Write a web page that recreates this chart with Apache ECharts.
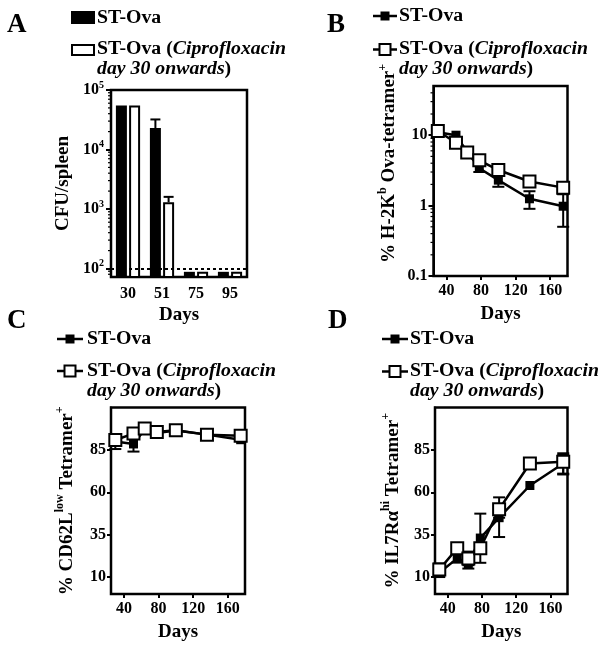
<!DOCTYPE html>
<html><head><meta charset="utf-8">
<script src="https://cdn.jsdelivr.net/npm/echarts@6/dist/echarts.min.js"></script>
<style>html,body{margin:0;padding:0;background:#fff}#c{width:604px;height:651px}</style>
</head><body><div id="c"></div>
<script>
// ---------- data ----------
const cfuDays = ['30', '51', '75', '95'];
const cfuST = [55000, 23000, 88, 88];
const cfuCip = [55000, 1300, 88, 88];
const cfuErrST = [[1, 32000]];          // [category index, upper]
const cfuErrCip = [[1, 1600]];
const detectionLimit = 100;
const cfuMinorTicks = [80, 90, 200, 300, 400, 500, 600, 700, 800, 900, 2000, 3000, 4000, 5000, 6000, 7000, 8000, 9000, 20000, 30000, 40000, 50000, 60000, 70000, 80000, 90000];

const days = [30, 51, 64, 78, 100, 136, 175];
const tetST = [11, 10, 5.8, 3.4, 2.3, 1.25, 0.98];
const tetCip = [11.5, 7.8, 5.7, 4.4, 3.2, 2.2, 1.8];
const tetErrST = [[78, 3.0, 3.8], [100, 1.85, 2.8], [136, 0.9, 1.6], [175, 0.5, 1.45]];
const tetErrCip = [[30, 10.2, 12.8]];
const tetMinorTicks = [0.2, 0.3, 0.4, 0.5, 0.6, 0.7, 0.8, 0.9, 2, 3, 4, 5, 6, 7, 8, 9, 20, 30, 40];

const cd62ST = [90, 88.5, 97, 95, 96.5, 94, 91];
const cd62Cip = [90.8, 94.6, 97.6, 95.6, 96.6, 94, 93.4];
const cd62ErrST = [[30, 85.5, 94], [51, 84, 92]];
const cd62ErrCip = [];

const il7ST = [12.5, 21, 18, 33, 45, 64, 77];
const il7Cip = [14.4, 27, 21, 27, 50, 77, 78];
const il7ErrST = [[30, 10, 16], [51, 18.5, 23.5], [64, 15, 24], [78, 18.4, 47.4], [100, 33.6, 50], [175, 71, 82]];
const il7ErrCip = [[30, 12, 18], [51, 24, 30], [64, 17, 25], [100, 45, 57], [175, 70.5, 83]];

const dayTicks = [40, 80, 120, 160];
const pctTicks = [10, 35, 60, 85];

// ---------- styles ----------
const FONT = '"Liberation Serif", "Times New Roman", serif';
const BLACK = '#000';
const tickLabel = { color: BLACK, fontFamily: FONT, fontWeight: 'bold', fontSize: 16 };
const nameStyle = { color: BLACK, fontFamily: FONT, fontWeight: 'bold', fontSize: 19 };
const titleRich = {
  t: { fontFamily: FONT, fontWeight: 'bold', fontSize: 19, lineHeight: 26, color: BLACK },
  s: { fontFamily: FONT, fontWeight: 'bold', fontSize: 12, lineHeight: 12, verticalAlign: 'top', color: BLACK }
};
const axisLine = { show: true, onZero: false, lineStyle: { color: BLACK, width: 2 } };

const BAR_W = 11, BAR_GAP = 0.2;
const barOffset = (BAR_W + BAR_W * BAR_GAP) / 2;

function errRender(xOff, cap, upperOnly) {
  return function (params, api) {
    const x = api.value(0), lo = api.value(1), hi = api.value(2);
    const pLo = api.coord([x, lo]), pHi = api.coord([x, hi]);
    const cx = pLo[0] + xOff;
    const st = { stroke: BLACK, lineWidth: 2 };
    const ch = [
      { type: 'line', shape: { x1: cx, y1: pLo[1], x2: cx, y2: pHi[1] }, style: st },
      { type: 'line', shape: { x1: cx - cap, y1: pHi[1], x2: cx + cap, y2: pHi[1] }, style: st }
    ];
    if (!upperOnly) ch.push({ type: 'line', shape: { x1: cx - cap, y1: pLo[1], x2: cx + cap, y2: pLo[1] }, style: st });
    return { type: 'group', children: ch };
  };
}
function minorRender(len) {
  return function (params, api) {
    const y = api.coord([api.value(0), api.value(1)])[1];
    const x = params.coordSys.x;
    return { type: 'line', shape: { x1: x - len, y1: y, x2: x, y2: y }, style: { stroke: BLACK, lineWidth: 1.2 } };
  };
}

function pairs(xs, ys) { return xs.map((d, i) => [d, ys[i]]); }

function lineSeries(idx, data, hollow) {
  return {
    type: 'line', xAxisIndex: idx, yAxisIndex: idx, data: pairs(days, data), z: 3,
    symbol: 'rect', symbolSize: hollow ? 12 : 9, showSymbol: true,
    lineStyle: { color: BLACK, width: 2.5 },
    itemStyle: hollow ? { color: '#fff', borderColor: BLACK, borderWidth: 2 } : { color: BLACK }
  };
}
function errSeries(idx, data) {
  return { type: 'custom', xAxisIndex: idx, yAxisIndex: idx, data: data, z: 2,
    encode: { x: 0, y: [1, 2] }, renderItem: errRender(0, 6, false) };
}
function valueX(idx) {
  return {
    type: 'value', gridIndex: idx, min: 25, max: 180,
    axisLine: axisLine, splitLine: { show: false },
    axisTick: { show: true, customValues: dayTicks, length: 4, lineStyle: { color: BLACK, width: 2 } },
    axisLabel: Object.assign({ customValues: dayTicks, margin: 7 }, tickLabel),
    name: 'Days', nameLocation: 'middle', nameGap: 29, nameTextStyle: nameStyle
  };
}
function pctY(idx, name, gap) {
  return {
    type: 'value', gridIndex: idx, min: 0, max: 110,
    axisLine: axisLine, splitLine: { show: false },
    axisTick: { show: true, customValues: pctTicks, length: 4, lineStyle: { color: BLACK, width: 2 } },
    axisLabel: Object.assign({ customValues: pctTicks, margin: 5 }, tickLabel),
    name: name, nameLocation: 'middle', nameGap: gap,
    nameTextStyle: { rich: titleRich }
  };
}

// ---------- legends (graphic) ----------
const legFont = 'bold 18px ' + FONT;
const legRich = {
  b: { fontFamily: FONT, fontWeight: 'bold', fontSize: 18, lineHeight: 20, color: BLACK },
  i: { fontFamily: FONT, fontWeight: 'bold', fontStyle: 'italic', fontSize: 18, lineHeight: 20, color: BLACK }
};
function legendTexts(tx, y1, y2) {
  return [
    { type: 'text', x: tx, y: y1, scaleX: 1.1, style: { text: 'ST-Ova', font: legFont, fill: BLACK, verticalAlign: 'middle' } },
    { type: 'text', x: tx, y: y2 - 10, scaleX: 1.1, style: { text: '{b|ST-Ova (}{i|Ciprofloxacin}\n{i|day 30 onwards}{b|)}', rich: legRich, verticalAlign: 'top' } }
  ];
}
function lineLegend(x1, x2, tx, y1, y2) {
  const cx = (x1 + x2) / 2;
  return [
    { type: 'line', shape: { x1: x1, y1: y1, x2: x2, y2: y1 }, style: { stroke: BLACK, lineWidth: 2.5 } },
    { type: 'rect', shape: { x: cx - 4.5, y: y1 - 4.5, width: 9, height: 9 }, style: { fill: BLACK } },
    { type: 'line', shape: { x1: x1, y1: y2, x2: x2, y2: y2 }, style: { stroke: BLACK, lineWidth: 2.5 } },
    { type: 'rect', shape: { x: cx - 5.5, y: y2 - 5.5, width: 11, height: 11 }, style: { fill: '#fff', stroke: BLACK, lineWidth: 2 } }
  ].concat(legendTexts(tx, y1, y2));
}
function letter(t, x, y) {
  return { type: 'text', x: x, y: y, style: { text: t, font: 'bold 27px ' + FONT, fill: BLACK, verticalAlign: 'middle' } };
}

const graphics = [
  letter('A', 7, 25), letter('B', 327, 25), letter('C', 7, 321), letter('D', 328, 321),
  { type: 'rect', shape: { x: 71, y: 11, width: 24, height: 13 }, style: { fill: BLACK } },
  { type: 'rect', shape: { x: 72, y: 45, width: 22, height: 10 }, style: { fill: '#fff', stroke: BLACK, lineWidth: 2 } }
].concat(legendTexts(97, 18, 49))
 .concat(lineLegend(373, 397, 399, 16, 49.5))
 .concat(lineLegend(57, 83, 87, 339, 371))
 .concat(lineLegend(382, 408, 410, 339, 371.5));

// ---------- option ----------
const grids = [
  { left: 111, top: 90, width: 136, height: 187 },
  { left: 433.5, top: 86, width: 134, height: 190 },
  { left: 111, top: 407.5, width: 134, height: 186.5 },
  { left: 435, top: 407.5, width: 132.5, height: 186.5 }
].map(g => Object.assign({ show: true, borderColor: BLACK, borderWidth: 2.5, backgroundColor: 'transparent' }, g));

const option = {
  animation: false,
  backgroundColor: '#fff',
  grid: grids,
  graphic: graphics,
  xAxis: [
    {
      type: 'category', gridIndex: 0, data: cfuDays,
      axisLine: axisLine, axisTick: { show: false },
      axisLabel: Object.assign({ margin: 9 }, tickLabel),
      name: 'Days', nameLocation: 'middle', nameGap: 29, nameTextStyle: nameStyle
    },
    valueX(1), valueX(2), valueX(3)
  ],
  yAxis: [
    {
      type: 'log', gridIndex: 0, min: 72, max: 100000, logBase: 10,
      axisLine: axisLine, splitLine: { show: false },
      axisTick: { show: true, length: 5, lineStyle: { color: BLACK, width: 2 } },
      axisLabel: {
        margin: 7, showMinLabel: false,
        formatter: function (v) {
          const e = Math.round(Math.log10(v));
          if (Math.abs(Math.log10(v) - e) > 1e-6) return '';
          return '{b|10}{s|' + e + '}';
        },
        rich: {
          b: { fontFamily: FONT, fontWeight: 'bold', fontSize: 16, lineHeight: 20, color: BLACK },
          s: { fontFamily: FONT, fontWeight: 'bold', fontSize: 10, lineHeight: 10, verticalAlign: 'top', color: BLACK }
        }
      },
      name: 'CFU/spleen', nameLocation: 'middle', nameGap: 38, nameTextStyle: nameStyle
    },
    {
      type: 'log', gridIndex: 1, min: 0.1, max: 50, logBase: 10,
      axisLine: axisLine, splitLine: { show: false },
      axisTick: { show: true, length: 5, lineStyle: { color: BLACK, width: 2 } },
      axisLabel: Object.assign({
        margin: 6, showMaxLabel: false,
        formatter: function (v) {
          const e = Math.log10(v);
          if (Math.abs(e - Math.round(e)) > 1e-6) return '';
          return String(+v.toPrecision(6));
        }
      }, tickLabel),
      name: '{t|% H-2K}{s|b}{t| Ova-tetramer}{s|+}', nameLocation: 'middle', nameGap: 31,
      nameTextStyle: { rich: titleRich, padding: [0, 0, 0, 35] }
    },
    pctY(2, '{t|% CD62L}{s|low}{t| Tetramer}{s|+}', 31),
    pctY(3, '{t|% IL7R\u03b1}{s|hi}{t| Tetramer}{s|+}', 29)
  ],
  series: [
    // Panel A
    {
      type: 'bar', xAxisIndex: 0, yAxisIndex: 0, data: cfuST, barWidth: BAR_W, barGap: (BAR_GAP * 100) + '%',
      itemStyle: { color: BLACK }, clip: true,
      markLine: {
        silent: true, symbol: 'none', label: { show: false },
        lineStyle: { type: [3, 3], color: BLACK, width: 2 },
        data: [{ yAxis: detectionLimit }]
      }
    },
    {
      type: 'bar', xAxisIndex: 0, yAxisIndex: 0, data: cfuCip, barWidth: BAR_W, barGap: (BAR_GAP * 100) + '%',
      itemStyle: { color: '#fff', borderColor: BLACK, borderWidth: 2 }, clip: true
    },
    { type: 'custom', xAxisIndex: 0, yAxisIndex: 0, z: 3, encode: { x: 0, y: [1, 2] },
      data: cfuErrST.map(([i, hi]) => [i, cfuST[i], hi]), renderItem: errRender(-barOffset, 5, true) },
    { type: 'custom', xAxisIndex: 0, yAxisIndex: 0, z: 3, encode: { x: 0, y: [1, 2] },
      data: cfuErrCip.map(([i, hi]) => [i, cfuCip[i], hi]), renderItem: errRender(barOffset, 5, true) },
    { type: 'custom', xAxisIndex: 0, yAxisIndex: 0, z: 3, encode: { x: 0, y: 1 },
      data: cfuMinorTicks.map(v => [0, v]), renderItem: minorRender(3) },
    // Panel B
    errSeries(1, tetErrST), errSeries(1, tetErrCip),
    { type: 'custom', xAxisIndex: 1, yAxisIndex: 1, z: 3, encode: { x: 0, y: 1 },
      data: tetMinorTicks.map(v => [25, v]), renderItem: minorRender(3) },
    lineSeries(1, tetST, false), lineSeries(1, tetCip, true),
    // Panel C
    errSeries(2, cd62ErrST), errSeries(2, cd62ErrCip),
    lineSeries(2, cd62ST, false), lineSeries(2, cd62Cip, true),
    // Panel D
    errSeries(3, il7ErrST), errSeries(3, il7ErrCip),
    lineSeries(3, il7ST, false), lineSeries(3, il7Cip, true)
  ]
};

const chart = echarts.init(document.getElementById('c'), null, { renderer: 'canvas' });
chart.setOption(option);
</script>
</body></html>
